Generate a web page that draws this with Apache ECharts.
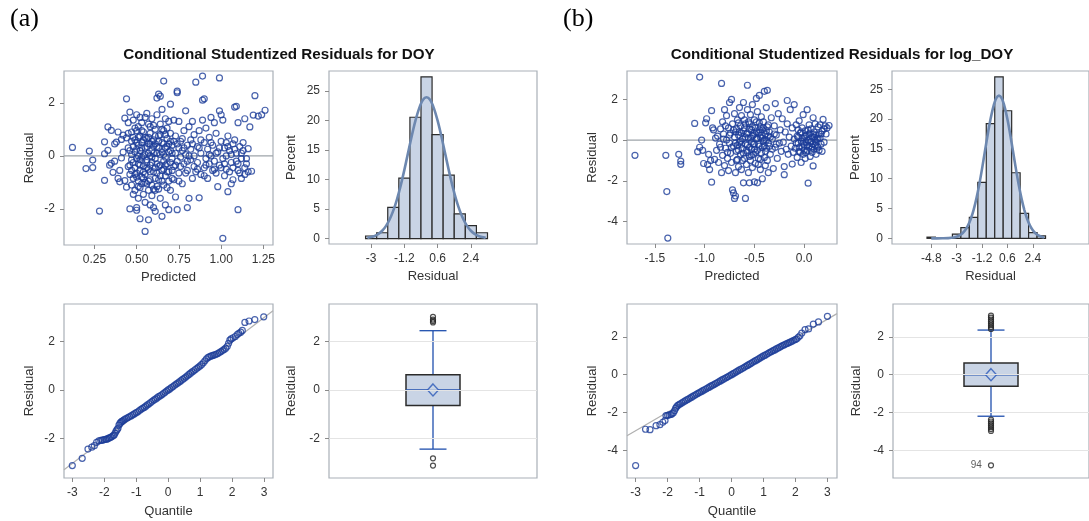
<!DOCTYPE html>
<html>
<head>
<meta charset="utf-8">
<title>Conditional Studentized Residuals</title>
<script src="https://cdn.jsdelivr.net/npm/echarts@6/dist/echarts.min.js"></script>
<style>
html, body { margin: 0; padding: 0; background: #fff; }
#chart { width: 1089px; height: 521px; }
</style>
</head>
<body>
<div id="chart"></div>
<script>
// ---- values ----
// (a) DOY: residual vs predicted
var scatA = [
[0.12,0.32],[0.20,-0.48],[0.22,0.18],[0.24,-0.16],[0.24,-0.44],[0.28,-2.08],[0.31,-0.92],[0.31,0.53],[0.31,0.08],[0.33,0.21],[0.33,1.09],[0.34,-0.35],[0.35,-0.28],[0.35,0.96],[0.36,-0.62],[0.37,-0.2],[0.37,0.45],[0.38,0.52],[0.39,0.9],[0.39,-0.85],[0.40,-0.55],[0.40,-0.98],[0.41,0.62],[0.41,-0.08],[0.42,0.14],[0.42,0.78],[0.43,-0.93],[0.43,1.42],[0.44,2.15],[0.44,0.68],[0.44,-1.18],[0.45,0.3],[0.45,1.25],[0.45,-0.4],[0.46,-2.0],[0.46,1.65],[0.46,-0.7],
[0.47,0.05],[0.47,-0.55],[0.47,0.9],[0.47,-1.1],[0.48,0.35],[0.48,-0.25],[0.48,1.35],[0.48,-0.85],[0.49,0.6],[0.49,-0.45],[0.49,0.15],[0.49,-1.3],[0.50,-1.95],[0.50,-2.05],[0.50,0.95],[0.50,-0.1],[0.50,-0.65],[0.50,1.55],[0.51,0.4],[0.51,-0.95],[0.51,-1.6],[0.51,1.1],[0.51,-0.3],[0.52,0.75],[0.52,-0.55],[0.52,-2.37],[0.52,0.2],[0.52,-1.2],[0.53,1.25],[0.53,-0.05],[0.53,-0.8],[0.53,0.5],[0.54,-1.45],[0.54,0.0],[0.54,-0.38],[0.54,0.9],[0.55,-2.85],[0.55,1.45],[0.55,-0.7],[0.55,0.3],[0.55,-1.75],[0.56,-0.15],[0.56,0.65],[0.56,-1.05],[0.56,1.6],[0.57,-2.41],[0.57,0.1],[0.57,-0.5],[0.57,1.2],[0.57,-1.3],[0.58,0.45],[0.58,-0.9],[0.58,-1.85],[0.58,0.85],[0.59,-0.25],[0.59,1.4],[0.59,-1.5],[0.59,0.2],[0.60,-0.6],[0.60,-1.25],[0.60,0.6],[0.60,-1.95],[0.61,-2.09],[0.61,1.0],[0.61,-0.1],[0.61,-0.85],[0.62,2.18],[0.62,0.35],[0.62,-1.15],[0.62,1.55],[0.63,2.33],[0.63,-0.4],[0.63,0.75],[0.63,-0.9],[0.64,2.25],[0.64,0.05],[0.64,-1.6],[0.64,1.2],[0.65,-2.28],[0.65,0.5],[0.65,-0.55],[0.65,1.75],[0.66,2.82],[0.66,-0.2],[0.66,-1.1],[0.66,0.95],[0.67,0.3],[0.67,-0.75],[0.67,1.4],[0.67,-1.85],[0.68,0.65],[0.68,-0.3],[0.68,1.05],[0.69,-2.03],[0.69,0.15],[0.69,-0.6],[0.70,0.85],[0.70,-1.3],[0.70,1.95],[0.71,-0.1],[0.71,0.4],[0.71,-0.85],
[0.72,1.35],[0.72,-0.4],[0.73,0.1],[0.73,-1.55],[0.73,0.75],[0.74,2.44],[0.74,2.38],[0.74,-2.03],[0.74,-0.2],[0.75,0.3],[0.75,-0.65],[0.75,1.3],[0.76,0.55],[0.76,-0.05],[0.77,-1.05],[0.77,0.2],[0.78,0.95],[0.78,-0.3],[0.79,1.7],[0.79,0.05],[0.80,-1.95],[0.80,-0.55],[0.80,0.4],[0.81,-1.6],[0.81,1.1],[0.82,-0.15],[0.82,0.25],[0.83,1.3],[0.83,-0.85],[0.84,0.0],[0.84,0.8],[0.85,2.78],[0.85,-0.6],
[0.86,0.35],[0.86,-0.25],[0.87,-1.58],[0.87,0.95],[0.88,0.1],[0.88,-0.7],[0.89,3.01],[0.89,2.1],[0.89,1.35],[0.90,-0.45],[0.90,2.15],[0.90,0.5],[0.91,-0.1],[0.91,1.05],[0.92,0.25],[0.92,-0.85],[0.93,0.7],[0.93,-0.3],[0.94,1.45],[0.94,0.0],[0.95,-0.55],[0.95,0.4],[0.96,1.25],[0.96,-0.2],[0.97,0.85],[0.97,-0.65],[0.98,-1.16],[0.98,0.15],[0.99,2.94],[0.99,1.7],[0.99,-0.35],[1.00,0.55],[1.00,1.55],[1.01,-3.11],[1.01,-0.1],[1.01,1.35],[1.02,0.3],[1.02,-0.75],[1.03,0.0],[1.03,-0.5],[1.04,-1.35],[1.04,0.75],[1.05,-0.6],[1.05,0.2],
[1.06,-1.05],[1.06,0.05],[1.07,-0.9],[1.07,0.45],[1.08,1.84],[1.08,0.6],[1.09,1.87],[1.09,-0.2],[1.10,-2.03],[1.10,1.25],[1.10,-0.55],[1.11,0.35],[1.12,-0.85],[1.12,-0.1],[1.13,0.2],[1.14,-0.7],[1.14,1.4],[1.15,-0.3],[1.16,0.27],[1.16,-0.6],[1.17,1.09],[1.18,-0.58],[1.19,1.54],[1.20,2.27],[1.22,1.5],[1.24,1.55],[1.26,1.72],
[0.46,-0.35],[0.47,0.55],[0.48,-1.45],[0.49,1.05],[0.50,0.25],[0.50,-0.8],[0.51,0.0],[0.52,1.45],[0.52,-0.15],[0.53,-1.05],[0.53,0.3],[0.54,-0.6],[0.54,0.6],[0.55,0.05],[0.55,-1.0],[0.56,0.35],[0.56,-0.45],[0.57,0.7],[0.57,-0.95],[0.58,0.0],[0.58,-0.35],[0.59,0.55],[0.59,-1.1],[0.60,0.1],[0.60,1.15],[0.61,-0.45],[0.61,0.45],[0.62,-0.65],[0.62,0.1],[0.63,-1.25],[0.63,0.3],[0.64,-0.35],[0.64,0.8],[0.65,-0.95],[0.65,0.15],[0.66,0.45],[0.66,-0.5],[0.67,-0.05],[0.67,0.8],[0.68,-1.2],[0.68,-0.6],[0.69,0.45],[0.69,1.3],[0.70,-0.25],[0.70,0.2],[0.71,-0.55],[0.72,0.55],[0.72,-0.9],[0.73,-0.35],[0.74,0.45],[0.76,-0.4],[0.78,0.3],[0.80,-0.2],[0.82,0.6],[0.84,-0.4],[0.87,0.3],[0.90,-0.75],[0.93,0.05],[0.96,-0.5],[0.99,0.3],[1.02,-0.3],[1.04,0.35],[1.07,-0.45],[1.09,0.1],[1.11,-0.65],[1.13,0.5],[1.15,-0.1],
[0.45,0.85],[0.46,0.2],[0.47,-0.15],[0.48,0.7],[0.49,-0.7],[0.50,0.5],[0.51,-1.15],[0.51,0.7],[0.52,-0.35],[0.53,0.95],[0.54,-0.85],[0.55,0.7],[0.56,-0.25],[0.57,0.45],[0.58,-0.6],[0.58,1.1],[0.59,-0.05],[0.60,0.35],[0.61,-1.3],[0.61,0.75],[0.62,-0.3],[0.63,0.55],[0.64,-0.75],[0.65,1.0],[0.66,0.05],[0.67,-0.35],[0.68,0.35],[0.69,-0.95],[0.70,0.55],[0.71,0.1],
[0.75,-0.95],[0.77,0.65],[0.79,-0.65],[0.81,0.0],[0.83,0.45],[0.86,-0.5],[0.88,0.6],[0.91,-0.35],[0.94,0.5],[0.97,0.1],[1.00,-0.45],[1.03,0.5],[1.06,-0.25],[1.08,0.25],[1.10,-0.3],[1.12,0.1],[1.14,-0.45]
];

// (b) log_DOY: residual vs predicted
var scatB = [
[-1.70,-0.75],[-1.39,-0.75],[-1.38,-2.53],[-1.37,-4.82],[-1.26,-0.70],[-1.24,-1.03],[-1.24,-1.19],
[-1.10,0.82],[-1.07,-0.57],[-1.05,3.10],[-1.05,-0.35],[-1.03,0.0],[-1.02,-0.5],[-1.01,-1.15],[-0.99,0.85],[-0.98,1.05],[-0.97,-1.2],[-0.96,-0.7],[-0.95,-1.45],[-0.94,-1.0],[-0.93,1.45],[-0.93,-2.07],[-0.92,0.6],[-0.91,0.5],[-0.90,-0.95],[-0.89,0.1],[-0.88,-0.5],[-0.87,0.2],[-0.86,-1.1],
[-0.85,-0.2],[-0.84,0.55],[-0.83,2.79],[-0.83,-1.6],[-0.82,0.9],[-0.82,-0.75],[-0.81,0.3],[-0.80,-1.25],[-0.80,1.5],[-0.79,-0.4],[-0.78,0.0],[-0.78,1.2],[-0.77,-0.9],[-0.76,0.6],[-0.76,-1.5],[-0.75,1.85],[-0.75,-0.15],[-0.74,0.35],[-0.74,-0.65],[-0.73,2.0],[-0.73,-1.1],[-0.72,-2.45],[-0.72,0.8],[-0.71,-2.6],[-0.71,-0.3],[-0.70,-2.87],[-0.70,0.15],[-0.70,1.3],[-0.69,-2.75],[-0.69,-1.6],[-0.68,-0.55],[-0.68,0.55],[-0.67,1.0],[-0.67,-0.95],[-0.66,-1.3],[-0.66,0.25],[-0.65,1.6],[-0.65,-0.1],[-0.64,-0.7],[-0.64,0.7],[-0.63,1.2],[-0.63,-1.45],[-0.62,0.05],[-0.62,-0.4],[-0.61,-2.1],[-0.61,1.85],[-0.61,0.45],
[-0.60,-0.9],[-0.60,1.0],[-0.59,-2.87],[-0.59,-0.2],[-0.58,0.3],[-0.58,-1.2],[-0.57,2.70],[-0.57,1.5],[-0.57,-0.6],[-0.56,0.1],[-0.56,-1.6],[-0.55,-2.1],[-0.55,0.8],[-0.55,-0.35],[-0.54,1.25],[-0.54,-1.0],[-0.53,0.5],[-0.53,-0.1],[-0.52,1.75],[-0.52,-1.35],[-0.51,0.25],[-0.51,-0.7],[-0.50,-2.05],[-0.50,1.0],[-0.50,-0.2],[-0.49,0.6],[-0.49,-1.15],[-0.48,2.05],[-0.48,0.05],[-0.47,-2.1],[-0.47,-0.5],[-0.47,1.4],[-0.46,0.35],[-0.46,-0.9],[-0.45,2.2],[-0.45,0.85],[-0.45,-0.3],[-0.44,-1.45],[-0.44,0.15],[-0.43,1.15],[-0.43,-0.65],[-0.42,0.5],[-0.42,-1.9],[-0.41,-0.05],[-0.41,0.9],[-0.40,2.4],[-0.40,-0.85],[-0.39,0.3],[-0.39,-1.25],[-0.38,1.6],[-0.38,-0.4],[-0.37,2.45],[-0.37,0.65],[-0.36,-0.15],[-0.36,-1.6],[-0.35,0.4],
[-0.34,-0.7],[-0.33,1.1],[-0.32,0.05],[-0.31,-1.4],[-0.30,0.7],[-0.29,1.8],[-0.29,-0.35],[-0.28,0.25],[-0.27,-0.9],[-0.26,1.3],[-0.25,-0.15],[-0.24,0.5],[-0.23,-0.55],[-0.22,1.05],[-0.21,-0.1],[-0.20,-1.7],[-0.20,-1.3],[-0.19,0.4],[-0.18,-0.45],[-0.17,1.95],[-0.17,0.8],[-0.16,-0.7],[-0.15,0.15],[-0.14,1.5],[-0.13,-0.3],[-0.12,-1.18],[-0.12,0.6],[-0.11,-0.6],[-0.10,1.75],[-0.10,0.05],
[-0.09,-0.4],[-0.08,0.75],[-0.07,-0.85],[-0.07,0.2],[-0.06,-0.15],[-0.05,0.95],[-0.05,-0.55],[-0.04,0.35],[-0.03,-1.1],[-0.03,-0.05],[-0.02,0.6],[-0.02,-0.35],[-0.01,1.25],[-0.01,-0.7],[0.00,0.1],[0.00,-0.25],[0.01,0.45],[0.01,-0.9],[0.02,-0.1],[0.02,0.25],[0.03,1.5],[0.03,-0.5],[0.04,-2.12],[0.04,0.0],[0.05,0.75],[0.05,-0.3],[0.06,-0.8],[0.06,0.35],[0.07,-0.05],[0.07,0.55],[0.08,-0.6],[0.08,0.15],[0.09,-1.27],[0.09,1.1],[0.09,-0.2],[0.10,0.4],[0.10,-0.45],[0.11,0.8],[0.11,0.0],[0.12,-0.7],[0.12,0.25],[0.13,-0.3],[0.14,0.65],[0.14,0.1],[0.15,-0.5],[0.16,0.75],[0.17,0.3],[0.18,-0.55],[0.19,1.02],[0.20,0.55],[0.21,0.7],[0.23,0.6],[0.25,0.72],
[-0.69,0.4],[-0.67,-0.25],[-0.66,0.85],[-0.64,-0.05],[-0.63,0.35],[-0.62,-1.0],[-0.60,0.6],[-0.59,0.15],[-0.58,-0.5],[-0.57,0.35],[-0.56,0.9],[-0.55,-0.8],[-0.54,0.1],[-0.53,-0.45],[-0.52,0.65],[-0.51,-0.2],[-0.50,0.35],[-0.49,-0.6],[-0.48,0.9],[-0.47,0.1],[-0.46,-0.2],[-0.45,0.5],[-0.44,-0.95],[-0.43,0.25],[-0.42,-0.35],[-0.41,0.6],[-0.40,0.0],[-0.39,-0.55],[-0.38,0.45],[-0.37,-1.0],[-0.36,0.2],[-0.35,-0.3],
[-0.08,-0.15],[-0.06,0.5],[-0.04,-0.6],[-0.02,0.1],[0.00,-0.5],[0.01,0.2],[0.03,-0.25],[0.05,0.3],[0.06,-0.1],[0.08,-0.35],[0.10,0.15],[0.11,-0.25],[0.13,0.05],[0.15,0.3],[0.17,-0.2],
[-0.84,-0.35],[-0.81,0.05],[-0.79,0.7],[-0.77,-0.6],[-0.75,0.25],[-0.73,-0.35],[-0.71,0.5],[-0.69,-0.15],[-0.68,-1.0],[-0.66,-0.5],[-0.65,0.4],[-0.63,-0.2],[-0.61,-0.65],[-0.59,0.8],[-0.57,-0.25],[-0.55,0.55],[-0.53,-0.75],[-0.52,0.2],[-0.50,-0.45],[-0.48,0.4],[-0.46,-1.2],[-0.44,0.65],[-0.42,0.1],[-0.40,-0.3],[-0.38,0.0],[-0.36,0.75],[-0.34,0.15],[-0.32,-0.45],[-0.30,0.3],[-0.28,-0.2],
[-0.06,0.15],[-0.05,-0.35],[-0.03,0.4],[-0.01,-0.15],[0.02,-0.6],[0.04,0.5],[0.07,-0.45],[0.09,0.3],[0.12,-0.1],[0.14,-0.35],[0.16,0.1],[0.18,0.45],[0.20,-0.1],[0.22,0.3]
];

// histograms: bin centres (width 0.6) and percent
var binA = [-3, -2.4, -1.8, -1.2, -0.6, 0, 0.6, 1.2, 1.8, 2.4, 3.0];
var pctA = [0.45, 1.0, 5.3, 10.25, 20.55, 27.4, 17.6, 10.75, 4.2, 2.2, 1.0];
var binB = [-4.8, -3, -2.4, -1.8, -1.2, -0.6, 0, 0.6, 1.2, 1.8, 2.4, 3.0];
var pctB = [0.2, 0.7, 1.8, 3.5, 9.4, 19.25, 27.1, 21.4, 11.0, 4.2, 0.95, 0.4];

// fitted density curve (percent scale)
var densX = [-3.2,-3.0,-2.8,-2.6,-2.4,-2.2,-2.0,-1.8,-1.6,-1.4,-1.2,-1.0,-0.8,-0.6,-0.4,-0.2,0,0.2,0.4,0.6,0.8,1.0,1.2,1.4,1.6,1.8,2.0,2.2,2.4,2.6,2.8,3.0,3.2];
var densY = [0.14,0.27,0.48,0.81,1.34,2.13,3.24,4.74,6.66,8.98,11.65,14.52,17.39,19.97,22.06,23.47,23.94,23.47,22.06,19.97,17.39,14.52,11.65,8.98,6.66,4.74,3.24,2.13,1.34,0.81,0.48,0.27,0.14];
var tailX = [-4.8, -4.4, -4.0, -3.6];
var tailY = [0, 0, 0.01, 0.04];

// Q-Q points [quantile, residual]
var qqA = [
[-3.0,-3.12],[-2.69,-2.82],[-2.51,-2.44],[-2.39,-2.36],[-2.31,-2.3],[-2.24,-2.16],[-2.17,-2.1],[-2.11,-2.08],[-2.06,-2.07],[-2.01,-2.05],[-1.96,-2.04],[-1.92,-2.03],[-1.88,-2.0],[-1.84,-1.98],[-1.8,-1.95],[-1.76,-1.92],[-1.72,-1.88],[-1.69,-1.86],[-1.66,-1.78],[-1.63,-1.7],[-1.6,-1.64],[-1.57,-1.58],[-1.54,-1.45],[-1.51,-1.38],[-1.48,-1.33],[-1.45,-1.3],[-1.42,-1.27],[-1.39,-1.24],[-1.35,-1.2],[-1.3,-1.17],[-1.25,-1.13],[-1.2,-1.1],[-1.15,-1.06],[-1.1,-1.02],[-1.05,-0.98],[-1.0,-0.94],[-0.95,-0.9],[-0.9,-0.85],[-0.85,-0.8],[-0.8,-0.76],[-0.75,-0.72],[-0.7,-0.67],[-0.65,-0.62],[-0.6,-0.57],[-0.55,-0.52],[-0.5,-0.47],[-0.45,-0.42],[-0.4,-0.38],[-0.35,-0.33],[-0.3,-0.28],[-0.25,-0.24],[-0.2,-0.2],[-0.15,-0.15],[-0.1,-0.1],[-0.05,-0.05],[0.0,0.0],[0.05,0.04],[0.1,0.09],[0.15,0.14],[0.2,0.19],[0.25,0.24],[0.3,0.28],[0.35,0.33],[0.4,0.38],[0.45,0.43],[0.5,0.48],[0.55,0.53],[0.6,0.58],[0.65,0.64],[0.7,0.69],[0.75,0.74],[0.8,0.79],[0.85,0.84],[0.9,0.89],[0.95,0.94],[1.0,0.99],[1.05,1.05],[1.1,1.12],[1.15,1.2],[1.2,1.28],[1.25,1.34],[1.3,1.37],[1.35,1.4],[1.4,1.42],[1.45,1.44],[1.5,1.47],[1.55,1.5],[1.6,1.54],[1.65,1.58],[1.7,1.62],[1.75,1.67],[1.8,1.72],[1.85,1.8],[1.89,1.92],[1.93,2.05],[1.97,2.1],[2.03,2.15],[2.1,2.2],[2.16,2.28],[2.21,2.33],[2.27,2.38],[2.32,2.45],[2.4,2.78],[2.53,2.84],[2.71,2.9],[2.99,3.01]
];
var qqB = [
[-3.0,-4.81],[-2.69,-2.89],[-2.55,-2.91],[-2.36,-2.7],[-2.24,-2.65],[-2.15,-2.52],[-2.08,-2.43],[-2.05,-2.17],[-2.0,-2.15],[-1.95,-2.13],[-1.9,-2.11],[-1.86,-2.07],[-1.82,-2.02],[-1.78,-1.9],[-1.75,-1.78],[-1.72,-1.7],[-1.68,-1.63],[-1.64,-1.58],[-1.6,-1.54],[-1.55,-1.49],[-1.5,-1.44],[-1.45,-1.39],[-1.4,-1.34],[-1.35,-1.29],[-1.3,-1.24],[-1.25,-1.19],[-1.2,-1.14],[-1.15,-1.09],[-1.1,-1.04],[-1.05,-0.99],[-1.0,-0.95],[-0.95,-0.9],[-0.9,-0.85],[-0.85,-0.8],[-0.8,-0.76],[-0.75,-0.71],[-0.7,-0.66],[-0.65,-0.61],[-0.6,-0.57],[-0.55,-0.52],[-0.5,-0.47],[-0.45,-0.43],[-0.4,-0.38],[-0.35,-0.33],[-0.3,-0.28],[-0.25,-0.24],[-0.2,-0.19],[-0.15,-0.14],[-0.1,-0.1],[-0.05,-0.05],[0.0,0.0],[0.05,0.05],[0.1,0.1],[0.15,0.15],[0.2,0.2],[0.25,0.25],[0.3,0.3],[0.35,0.34],[0.4,0.39],[0.45,0.44],[0.5,0.49],[0.55,0.54],[0.6,0.59],[0.65,0.64],[0.7,0.69],[0.75,0.74],[0.8,0.79],[0.85,0.84],[0.9,0.89],[0.95,0.94],[1.0,0.99],[1.05,1.03],[1.1,1.08],[1.15,1.13],[1.2,1.18],[1.25,1.22],[1.3,1.27],[1.35,1.31],[1.4,1.36],[1.45,1.4],[1.5,1.45],[1.55,1.5],[1.6,1.54],[1.65,1.58],[1.7,1.62],[1.75,1.66],[1.8,1.7],[1.85,1.74],[1.9,1.78],[1.95,1.82],[2.0,1.86],[2.04,1.9],[2.09,1.98],[2.14,2.06],[2.2,2.2],[2.3,2.38],[2.41,2.42],[2.56,2.68],[2.72,2.79],[3.0,3.09]
];
var qqRefA = [[-3.26, -3.29], [3.28, 3.26]];
var qqRefB = [[-3.27, -3.23], [3.30, 3.23]];

// box plots: [min whisker, Q1, median, Q3, max whisker], mean, outliers
var boxA = [-2.44, -0.64, 0.0, 0.62, 2.44];
var meanA = 0.0;
var outA = [2.78, 2.84, 2.9, 3.01, -2.82, -3.12];
var boxB = [-2.2, -0.62, 0.0, 0.62, 2.36];
var meanB = 0.0;
var outB = [2.42, 2.52, 2.62, 2.72, 2.82, 2.92, 3.02, 3.12, -2.38, -2.48, -2.58, -2.68, -2.78, -2.88, -2.98];
var farOutB = -4.8, farOutBLabel = '94';

// axis extents and ticks
var extScatAX = [0.07, 1.307], extScatBX = [-1.78, 0.33];
var ticksScatAX = [0.25, 0.5, 0.75, 1.0, 1.25];
var ticksScatBX = [-1.5, -1.0, -0.5, 0.0];
var ticksHistAX = [-3, -1.2, 0.6, 2.4];
var ticksHistBX = [-4.8, -3, -1.2, 0.6, 2.4];
var ticksPct = [0, 5, 10, 15, 20, 25];
var ticksQ = [-3, -2, -1, 0, 1, 2, 3];
var ticksResA = [-2, 0, 2];
var ticksResB = [-4, -2, 0, 2];

// ---- chart ----
var FONT = '"Liberation Sans", Arial, sans-serif';
var BLUE = '#1b3c98';
var LINEBLUE = '#1f4fae';
var BOXFILL = '#c9d4e5';

function grid(l, t, w, h) {
    return { left: l, top: t, width: w, height: h, show: true, borderColor: '#a9b0b7', borderWidth: 1.2 };
}

function axis(gi, min, max, ticks, name, gap, fmt) {
    return {
        type: 'value', gridIndex: gi, min: min, max: max,
        axisLine: { show: false, onZero: false },
        axisTick: { show: true, length: 4, lineStyle: { color: '#8a8a8a' }, customValues: ticks },
        axisLabel: { customValues: ticks, color: '#333', fontSize: 12, fontFamily: FONT, margin: 9,
            formatter: fmt || function (v) { return String(v); } },
        splitLine: { show: false },
        name: name, nameLocation: 'middle', nameGap: gap,
        nameTextStyle: { fontSize: 13, color: '#333', fontFamily: FONT }
    };
}

function hidden(gi) {
    return { type: 'value', gridIndex: gi, min: -1, max: 1, show: false };
}

function histItem(params, api) {
    var c = api.value(0), h = api.value(1);
    var p0 = api.coord([c - 0.3, h]);
    var p1 = api.coord([c + 0.3, 0]);
    return {
        type: 'rect',
        shape: { x: p0[0], y: p0[1], width: p1[0] - p0[0], height: p1[1] - p0[1] },
        style: { fill: BOXFILL, stroke: '#2b2b2b', lineWidth: 1.2 }
    };
}

function boxItem(params, api) {
    var cx = api.coord([api.value(0), 0])[0];
    var y = [1, 2, 3, 4, 5].map(function (i) { return api.coord([0, api.value(i)])[1]; });
    var bw = 54, cw = 27;
    var ln = { stroke: LINEBLUE, lineWidth: 1.3 };
    return {
        type: 'group',
        children: [
            { type: 'line', shape: { x1: cx, y1: y[0], x2: cx, y2: y[1] }, style: ln },
            { type: 'line', shape: { x1: cx, y1: y[3], x2: cx, y2: y[4] }, style: ln },
            { type: 'line', shape: { x1: cx - cw / 2, y1: y[0], x2: cx + cw / 2, y2: y[0] }, style: ln },
            { type: 'line', shape: { x1: cx - cw / 2, y1: y[4], x2: cx + cw / 2, y2: y[4] }, style: ln },
            { type: 'rect', shape: { x: cx - bw / 2, y: y[3], width: bw, height: y[1] - y[3] },
              style: { fill: BOXFILL, stroke: '#2b2b2b', lineWidth: 1.5 } },
            { type: 'line', shape: { x1: cx - bw / 2, y1: y[2], x2: cx + bw / 2, y2: y[2] },
              style: { stroke: LINEBLUE, lineWidth: 1.5 } }
        ]
    };
}

function pairs(xs, ys) {
    return xs.map(function (x, i) { return [x, ys[i]]; });
}

var circle = { color: 'rgba(0,0,0,0)', borderColor: BLUE, borderWidth: 1.2 };

function pointSeries(gi, data) {
    return { type: 'scatter', xAxisIndex: gi, yAxisIndex: gi, data: data, symbol: 'circle', symbolSize: 6, itemStyle: circle, z: 3 };
}

function zeroLine(gi, ext) {
    return {
        type: 'line', xAxisIndex: gi, yAxisIndex: gi, data: [[ext[0], 0], [ext[1], 0]], showSymbol: false,
        lineStyle: { color: '#9ea4aa', width: 1.2 }, z: 1, silent: true
    };
}

function gridLines(gi, ticks) {
    return {
        type: 'line', xAxisIndex: gi, yAxisIndex: gi, data: [], z: 0,
        markLine: { silent: true, symbol: 'none', label: { show: false },
            lineStyle: { color: '#e4e4e4', width: 1.2, type: 'solid' },
            data: ticks.map(function (t) { return { yAxis: t }; }) }
    };
}

function boxSeries(gi, stats, mean, outliers, ticks, extra) {
    var out = outliers.map(function (v) { return [0, v]; });
    if (extra) out.push(extra);
    return [
        gridLines(gi, ticks),
        { type: 'custom', xAxisIndex: gi, yAxisIndex: gi, renderItem: boxItem,
          data: [[0].concat(stats)], encode: { x: 0, y: [1, 2, 3, 4, 5] }, z: 2 },
        { type: 'scatter', xAxisIndex: gi, yAxisIndex: gi, data: [[0, mean]], symbol: 'diamond', symbolSize: [11, 12],
          itemStyle: { color: BOXFILL, borderColor: '#2a58b8', borderWidth: 1.4 }, z: 4 },
        { type: 'scatter', xAxisIndex: gi, yAxisIndex: gi, data: out, symbol: 'circle', symbolSize: 5,
          itemStyle: { color: 'rgba(0,0,0,0)', borderColor: '#222', borderWidth: 1.2 }, z: 4 }
    ];
}

var two = function (v) { return v.toFixed(2); };
var one = function (v) { return v.toFixed(1); };

var titleFont = 'bold 15.2px ' + FONT;

var option = {
    animation: false,
    backgroundColor: '#fff',
    graphic: [
        { type: 'text', x: 10, y: 6, style: { text: '(a)', font: '26px "Liberation Serif", "Times New Roman", serif', fill: '#000' } },
        { type: 'text', x: 563, y: 6, style: { text: '(b)', font: '26px "Liberation Serif", "Times New Roman", serif', fill: '#000' } },
        { type: 'text', x: 279, y: 55, style: { text: 'Conditional Studentized Residuals for DOY', font: titleFont, fill: '#111', align: 'center', verticalAlign: 'middle' } },
        { type: 'text', x: 842, y: 55, style: { text: 'Conditional Studentized Residuals for log_DOY', font: titleFont, fill: '#111', align: 'center', verticalAlign: 'middle' } }
    ],
    grid: [
        grid(64, 71, 209, 174),   // 0 scatter a
        grid(329, 71, 208, 173),  // 1 hist a
        grid(64, 304, 209, 174),  // 2 qq a
        grid(329, 304, 208, 174), // 3 box a
        grid(627, 71, 210, 173),  // 4 scatter b
        grid(892, 71, 208, 173),  // 5 hist b
        grid(627, 304, 210, 174), // 6 qq b
        grid(893, 304, 208, 174)  // 7 box b
    ],
    xAxis: [
        axis(0, extScatAX[0], extScatAX[1], ticksScatAX, 'Predicted', 26, two),
        axis(1, -5.28, 5.98, ticksHistAX, 'Residual', 26),
        axis(2, -3.26, 3.28, ticksQ, 'Quantile', 27),
        hidden(3),
        axis(4, extScatBX[0], extScatBX[1], ticksScatBX, 'Predicted', 26, one),
        axis(5, -7.58, 6.38, ticksHistBX, 'Residual', 26),
        axis(6, -3.27, 3.30, ticksQ, 'Quantile', 27),
        hidden(7)
    ],
    yAxis: [
        axis(0, -3.36, 3.2, ticksResA, 'Residual', 28),
        axis(1, -0.9, 28.38, ticksPct, 'Percent', 31),
        axis(2, -3.63, 3.54, ticksResA, 'Residual', 28),
        axis(3, -3.63, 3.54, ticksResA, 'Residual', 31),
        axis(4, -5.11, 3.4, ticksResB, 'Residual', 28),
        axis(5, -0.95, 28.07, ticksPct, 'Percent', 30),
        axis(6, -5.47, 3.74, ticksResB, 'Residual', 28),
        axis(7, -5.47, 3.74, ticksResB, 'Residual', 30)
    ],
    series: [].concat(
        [zeroLine(0, extScatAX), pointSeries(0, scatA)],
        [{ type: 'custom', xAxisIndex: 1, yAxisIndex: 1, renderItem: histItem, data: pairs(binA, pctA), encode: { x: 0, y: 1 }, z: 2 },
         { type: 'line', xAxisIndex: 1, yAxisIndex: 1, data: pairs(densX, densY), showSymbol: false, smooth: 0.3,
           lineStyle: { color: '#6d88b0', width: 2.6 }, z: 3 }],
        [{ type: 'line', xAxisIndex: 2, yAxisIndex: 2, data: qqRefA, showSymbol: false, lineStyle: { color: '#b0b0b0', width: 1.2 }, z: 1 },
         pointSeries(2, qqA)],
        boxSeries(3, boxA, meanA, outA, ticksResA),
        [zeroLine(4, extScatBX), pointSeries(4, scatB)],
        [{ type: 'custom', xAxisIndex: 5, yAxisIndex: 5, renderItem: histItem, data: pairs(binB, pctB), encode: { x: 0, y: 1 }, z: 2 },
         { type: 'line', xAxisIndex: 5, yAxisIndex: 5, data: pairs(tailX.concat(densX), tailY.concat(densY)), showSymbol: false, smooth: 0.3,
           lineStyle: { color: '#6d88b0', width: 2.6 }, z: 3 }],
        [{ type: 'line', xAxisIndex: 6, yAxisIndex: 6, data: qqRefB, showSymbol: false, lineStyle: { color: '#b0b0b0', width: 1.2 }, z: 1 },
         pointSeries(6, qqB)],
        boxSeries(7, boxB, meanB, outB, ticksResB, {
            value: [0, farOutB],
            label: { show: true, formatter: farOutBLabel, position: 'left', distance: 6, fontSize: 10, color: '#333', fontFamily: FONT }
        })
    )
};

var chart = echarts.init(document.getElementById('chart'));
chart.setOption(option);
</script>
</body>
</html>
